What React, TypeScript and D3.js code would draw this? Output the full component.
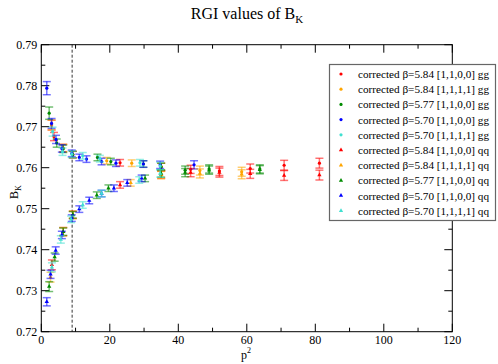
import React, { useEffect, useRef } from "react";
import * as d3 from "d3";

// [p^2, B_K, error]
const red_gg = [[3.0, 0.7704, 0.0012], [3.7, 0.7676, 0.001], [6.4, 0.7648, 0.0009], [9.2, 0.7632, 0.0008], [23, 0.7612, 0.0008], [35, 0.7602, 0.0009], [43.6, 0.7596, 0.001], [52, 0.7592, 0.0011], [61, 0.7598, 0.0011], [70.9, 0.7606, 0.0012], [81.2, 0.7611, 0.0012]];
const red_qq = [[3.1, 0.7363, 0.0012], [6.4, 0.7444, 0.001], [9.2, 0.7485, 0.0009], [23, 0.7558, 0.0008], [35, 0.7583, 0.0009], [43.6, 0.7588, 0.001], [52, 0.7588, 0.0011], [61, 0.7585, 0.0011], [70.9, 0.7581, 0.0012], [81.2, 0.7582, 0.0012]];
const orange_gg = [[3.0, 0.7704, 0.0012], [6.4, 0.7648, 0.0009], [19.1, 0.7617, 0.0008], [26.4, 0.7611, 0.0008], [35, 0.7602, 0.0009], [46.3, 0.7593, 0.0011], [58.5, 0.759, 0.0011]];
const orange_qq = [[2.7, 0.7333, 0.0012], [6.4, 0.7444, 0.001], [9.2, 0.7485, 0.0009], [26.1, 0.7563, 0.0008], [35, 0.7582, 0.0009], [46.3, 0.7586, 0.0011], [58.5, 0.7584, 0.0011]];
const green_gg = [[2.3, 0.7733, 0.0015], [4.5, 0.766, 0.001], [6.4, 0.7646, 0.0009], [9.2, 0.7632, 0.0008], [16.4, 0.7625, 0.0008], [20.3, 0.7615, 0.0008], [29.8, 0.7609, 0.0008], [35, 0.7602, 0.0009], [42, 0.7594, 0.001], [49, 0.7597, 0.001], [63.8, 0.7597, 0.001]];
const green_qq = [[2.3, 0.731, 0.0012], [3.9, 0.7382, 0.001], [6.4, 0.7444, 0.0009], [9.2, 0.7485, 0.0008], [16.2, 0.7533, 0.0008], [19.6, 0.755, 0.0008], [30.3, 0.7574, 0.0008], [35, 0.7586, 0.0009], [42, 0.7588, 0.001], [49, 0.7594, 0.001], [63.8, 0.7595, 0.001]];
const blue_gg = [[1.6, 0.7794, 0.0016], [3.0, 0.7708, 0.0012], [4.3, 0.7669, 0.001], [6.0, 0.7647, 0.0009], [8.9, 0.7635, 0.0008], [11.1, 0.7625, 0.0008], [13.2, 0.7621, 0.0008], [17.6, 0.7615, 0.0008], [21.8, 0.7611, 0.0008], [29.8, 0.7609, 0.0008], [34.7, 0.7607, 0.0009], [44.6, 0.7607, 0.001]];
const blue_qq = [[1.6, 0.7273, 0.001], [2.7, 0.734, 0.001], [4.2, 0.7398, 0.0009], [6.0, 0.7436, 0.0009], [8.9, 0.7477, 0.0008], [11.1, 0.7499, 0.0008], [14, 0.752, 0.0008], [17.6, 0.7537, 0.0008], [21.2, 0.755, 0.0008], [25.1, 0.7563, 0.0008], [29.3, 0.7574, 0.0008]];
const cyan_gg = [[3.3, 0.7688, 0.0011], [6.2, 0.7639, 0.0009], [8.9, 0.7633, 0.0008], [12.1, 0.7629, 0.0008], [17.1, 0.7622, 0.0008], [28.8, 0.7612, 0.0008], [34.7, 0.7604, 0.0009]];
const cyan_qq = [[3.1, 0.7357, 0.0011], [5.7, 0.7425, 0.0009], [8.7, 0.7474, 0.0008], [12.1, 0.7509, 0.0008], [17.6, 0.7537, 0.0008], [28.6, 0.757, 0.0008], [34.7, 0.7586, 0.0009]];

const seriesLabels = [
  "corrected β=5.84 [1,1,0,0] gg",
  "corrected β=5.84 [1,1,1,1] gg",
  "corrected β=5.77 [1,1,0,0] gg",
  "corrected β=5.70 [1,1,0,0] gg",
  "corrected β=5.70 [1,1,1,1] gg",
  "corrected β=5.84 [1,1,0,0] qq",
  "corrected β=5.84 [1,1,1,1] qq",
  "corrected β=5.77 [1,1,0,0] qq",
  "corrected β=5.70 [1,1,0,0] qq",
  "corrected β=5.70 [1,1,1,1] qq",
];
const seriesData = [red_gg, orange_gg, green_gg, blue_gg, cyan_gg, red_qq, orange_qq, green_qq, blue_qq, cyan_qq];
const colors = ["#ff0000", "#ffa500", "#008b00", "#0000ff", "#40e0d0"];

const xTicks = [0, 20, 40, 60, 80, 100, 120];
const yTicks = [0.72, 0.73, 0.74, 0.75, 0.76, 0.77, 0.78, 0.79];
const cutP2 = 9;

const App = () => {
  const ref = useRef<SVGSVGElement>(null);

  useEffect(() => {
    const svg = d3.select(ref.current);
    svg.selectAll("*").remove();

    const left = 41.3, right = 452.3, top = 44.7, bottom = 331.7;
    const x = d3.scaleLinear().domain([0, 120]).range([left, right]);
    const y = d3.scaleLinear().domain([0.72, 0.79]).range([bottom, top]);
    const font = "'Liberation Serif', 'Times New Roman', serif";

    svg.append("rect").attr("width", 498).attr("height", 364).attr("fill", "#fff");

    // title
    const title = svg.append("text").attr("x", 247).attr("y", 19).attr("text-anchor", "middle")
      .attr("font-family", font).attr("font-size", 16);
    title.append("tspan").text("RGI values of B");
    title.append("tspan").attr("font-size", 11).attr("dy", 4).text("K");

    // ticks (inward) on all four sides
    const tickG = svg.append("g").attr("stroke", "#000").attr("stroke-width", 1);
    const xMinor = d3.range(10, 120, 20);
    const yMinor = d3.range(0.725, 0.79, 0.01);
    xTicks.forEach(t => {
      tickG.append("line").attr("x1", x(t)).attr("x2", x(t)).attr("y1", bottom).attr("y2", bottom - 8);
      tickG.append("line").attr("x1", x(t)).attr("x2", x(t)).attr("y1", top).attr("y2", top + 8);
    });
    xMinor.forEach(t => {
      tickG.append("line").attr("x1", x(t)).attr("x2", x(t)).attr("y1", bottom).attr("y2", bottom - 4);
      tickG.append("line").attr("x1", x(t)).attr("x2", x(t)).attr("y1", top).attr("y2", top + 4);
    });
    yTicks.forEach(t => {
      tickG.append("line").attr("x1", left).attr("x2", left + 8).attr("y1", y(t)).attr("y2", y(t));
      tickG.append("line").attr("x1", right).attr("x2", right - 8).attr("y1", y(t)).attr("y2", y(t));
    });
    yMinor.forEach(t => {
      tickG.append("line").attr("x1", left).attr("x2", left + 4).attr("y1", y(t)).attr("y2", y(t));
      tickG.append("line").attr("x1", right).attr("x2", right - 4).attr("y1", y(t)).attr("y2", y(t));
    });

    // tick labels
    svg.append("g").selectAll("text").data(xTicks).join("text")
      .attr("x", d => x(d)).attr("y", bottom + 12).attr("text-anchor", "middle")
      .attr("font-family", font).attr("font-size", 12).text(d => d);
    svg.append("g").selectAll("text").data(yTicks).join("text")
      .attr("x", left - 4).attr("y", d => y(d) + 4).attr("text-anchor", "end")
      .attr("font-family", font).attr("font-size", 12).text(d => d.toFixed(2));

    // axis labels
    const xl = svg.append("text").attr("x", 246).attr("y", 359).attr("text-anchor", "middle")
      .attr("font-family", font).attr("font-size", 12);
    xl.append("tspan").text("p");
    xl.append("tspan").attr("font-size", 8).attr("dy", -6).text("2");
    const yl = svg.append("text").attr("transform", `translate(18,${(top + bottom) / 2 + 4}) rotate(-90)`)
      .attr("text-anchor", "middle").attr("font-family", font).attr("font-size", 12);
    yl.append("tspan").text("B");
    yl.append("tspan").attr("font-size", 8).attr("dy", 3).text("K");

    // cut at p^2 = 9
    svg.append("line").attr("x1", x(cutP2)).attr("x2", x(cutP2)).attr("y1", top).attr("y2", bottom)
      .attr("stroke", "#333").attr("stroke-dasharray", "3,2").attr("stroke-width", 1);

    const triangle = d3.symbol().type(d3.symbolTriangle).size(8);

    // data: error bars then markers
    seriesData.forEach((data, i) => {
      const c = colors[i % 5];
      const g = svg.append("g");
      const bars = g.append("g").attr("stroke", c).attr("stroke-width", 1.5).attr("stroke-opacity", 0.55);
      data.forEach(([p, v, e]) => {
        bars.append("line").attr("x1", x(p)).attr("x2", x(p)).attr("y1", y(v - e)).attr("y2", y(v + e));
        bars.append("line").attr("x1", x(p) - 4).attr("x2", x(p) + 4).attr("y1", y(v - e)).attr("y2", y(v - e));
        bars.append("line").attr("x1", x(p) - 4).attr("x2", x(p) + 4).attr("y1", y(v + e)).attr("y2", y(v + e));
      });
      if (i < 5) {
        g.selectAll("circle").data(data).join("circle")
          .attr("cx", d => x(d[0])).attr("cy", d => y(d[1])).attr("r", 1.6).attr("fill", c);
      } else {
        g.selectAll("path.m").data(data).join("path").attr("class", "m")
          .attr("transform", d => `translate(${x(d[0])},${y(d[1])})`).attr("d", triangle).attr("fill", c);
      }
    });

    // frame
    svg.append("rect").attr("x", left).attr("y", top).attr("width", right - left).attr("height", bottom - top)
      .attr("fill", "none").attr("stroke", "#000").attr("stroke-width", 1);

    // legend
    const lg = svg.append("g");
    lg.append("rect").attr("x", 329.5).attr("y", 64.5).attr("width", 166).attr("height", 156)
      .attr("fill", "#fff").attr("stroke", "#666").attr("stroke-width", 1.2);
    seriesLabels.forEach((label, i) => {
      const ly = 74 + i * 15.2;
      const c = colors[i % 5];
      if (i < 5) {
        lg.append("circle").attr("cx", 341).attr("cy", ly).attr("r", 1.6).attr("fill", c);
      } else {
        lg.append("path").attr("transform", `translate(341,${ly})`).attr("d", triangle).attr("fill", c);
      }
      lg.append("text").attr("x", 358).attr("y", ly + 4).attr("font-family", font).attr("font-size", 11.2)
        .text(label);
    });
  }, []);

  return (
    <svg ref={ref} width={498} height={364} style={{ position: "absolute", left: 0, top: 0 }}></svg>
  );
};

export default App;
